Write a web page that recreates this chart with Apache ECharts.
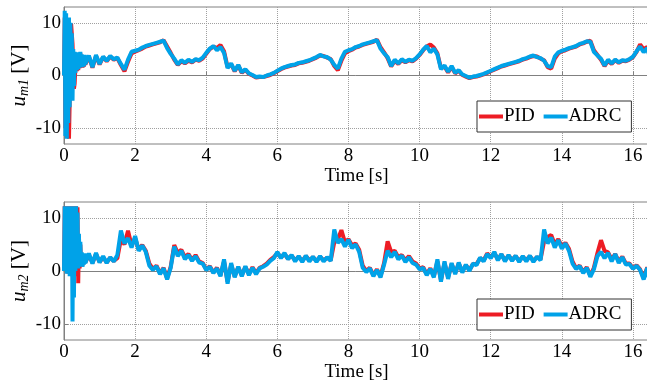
<!DOCTYPE html>
<html>
<head>
<meta charset="utf-8">
<script src="https://cdn.jsdelivr.net/npm/echarts@6/dist/echarts.min.js"></script>
<style>
  html, body { margin: 0; padding: 0; background: #fff; }
  #chart { width: 647px; height: 385px; }
</style>
</head>
<body>
<div id="chart"></div>
<script>
// 时间轴 (s)
var time = [0,0.02,0.04,0.06,0.08,0.1,0.12,0.14,0.16,0.18,
  0.2,0.22,0.24,0.26,0.28,0.3,0.32,0.34,0.36,0.38,
  0.4,0.42,0.44,0.46,0.48,0.5,0.52,0.54,0.56,0.58,0.6,
  0.7,0.8,0.9,
  1,1.1,1.2,1.3,1.4,1.5,1.6,1.7,1.8,1.9,
  2,2.1,2.2,2.3,2.4,2.5,2.6,2.7,2.8,2.9,
  3,3.1,3.2,3.3,3.4,3.5,3.6,3.7,3.8,3.9,
  4,4.1,4.2,4.3,4.4,4.5,4.6,4.7,4.8,4.9,
  5,5.1,5.2,5.3,5.4,5.5,5.6,5.7,5.8,5.9,
  6,6.1,6.2,6.3,6.4,6.5,6.6,6.7,6.8,6.9,
  7,7.1,7.2,7.3,7.4,7.5,7.6,7.7,7.8,7.9,
  8,8.1,8.2,8.3,8.4,8.5,8.6,8.7,8.8,8.9,
  9,9.1,9.2,9.3,9.4,9.5,9.6,9.7,9.8,9.9,
  10,10.1,10.2,10.3,10.4,10.5,10.6,10.7,10.8,10.9,
  11,11.1,11.2,11.3,11.4,11.5,11.6,11.7,11.8,11.9,
  12,12.1,12.2,12.3,12.4,12.5,12.6,12.7,12.8,12.9,
  13,13.1,13.2,13.3,13.4,13.5,13.6,13.7,13.8,13.9,
  14,14.1,14.2,14.3,14.4,14.5,14.6,14.7,14.8,14.9,
  15,15.1,15.2,15.3,15.4,15.5,15.6,15.7,15.8,15.9,
  16,16.1,16.2,16.3,16.4,16.45];

// u_m1 (上图)
var um1Pid = [0,11,-10,10.5,-11,9,-10,-12,-11.8,2,
  9.8,10,6,2,-2.5,-1.5,1.5,3.5,0.8,4,
  1,3.6,1.4,4.2,1.7,3.8,1.5,3.4,1.7,3.7,2.1,
  3.6,1.5,3.7,
  2.1,3.5,2.7,3.6,3.0,3.3,2.0,0.8,2.6,4.2,
  4.5,4.8,5.1,5.5,5.7,5.9,6.1,6.3,6.7,5.5,
  4.3,3.0,2.0,2.7,2.3,2.8,2.5,3.0,2.8,3.2,
  4.1,5.0,5.5,5.2,5.8,4.6,1.6,2.1,0.8,1.9,
  0.5,1.1,0.3,0.0,-0.4,-0.3,-0.3,-0.1,0.1,0.4,
  0.8,1.2,1.5,1.7,1.9,2.0,2.3,2.4,2.6,2.8,
  3.1,3.4,3.8,3.7,3.4,3.1,1.8,1.0,2.8,4.2,
  4.6,4.9,5.3,5.5,5.8,6.0,6.2,6.4,6.8,5.4,
  4.4,3.3,1.7,2.8,2.2,2.9,2.5,2.9,2.7,3.2,
  3.9,4.8,5.5,5.9,5.3,4.2,1.4,1.7,0.6,1.6,
  0.4,0.9,0.1,-0.2,-0.5,-0.3,-0.2,0.0,0.2,0.5,
  0.8,1.1,1.4,1.7,1.9,2.1,2.3,2.5,2.7,3.0,
  3.2,3.5,3.7,3.6,3.2,2.9,1.6,1.3,3.2,4.2,
  4.6,4.8,5.1,5.3,5.5,5.9,6.1,6.4,6.6,4.8,
  3.9,3.0,1.8,2.8,2.2,2.9,2.4,2.8,2.7,3.0,
  3.5,4.5,5.9,5.0,5.4,4.2];

var um1Adrc = [0,12.3,-11.5,11.8,-12,10.5,-9,11,-6,10,
  -3,8,-4.8,5,-2,4.5,0.5,4.2,1,4.4,
  1.2,3.8,1.5,4.5,1.8,4,1.6,3.6,1.8,3.9,2.2,
  3.8,1.6,3.9,
  2.2,3.6,2.8,3.7,3.1,3.4,2.2,1.1,3.0,4.5,
  4.7,4.9,5.3,5.6,5.8,6.0,6.2,6.4,6.6,5.2,
  4.1,3.2,2.1,2.9,2.4,3.0,2.6,3.1,2.9,3.4,
  4.3,5.1,5.6,4.8,5.4,4.3,1.4,2.3,0.9,2.0,
  0.6,1.2,0.4,0.1,-0.3,-0.2,-0.3,0.0,0.2,0.5,
  0.9,1.3,1.6,1.8,2.0,2.1,2.4,2.5,2.7,2.9,
  3.2,3.5,3.9,3.6,3.5,3.0,2.0,1.3,3.2,4.5,
  4.8,5.0,5.4,5.6,5.9,6.1,6.3,6.5,6.7,5.1,
  4.2,3.5,1.8,3.0,2.3,3.1,2.6,3.0,2.8,3.3,
  4.0,4.9,5.6,4.4,5.1,4.0,1.2,1.9,0.7,1.8,
  0.5,1.0,0.2,-0.1,-0.4,-0.2,-0.1,0.1,0.3,0.6,
  0.9,1.2,1.5,1.8,2.0,2.2,2.4,2.6,2.8,3.1,
  3.3,3.6,3.8,3.5,3.3,2.8,1.8,1.6,3.6,4.4,
  4.7,4.9,5.2,5.4,5.6,6.0,6.2,6.5,6.4,4.5,
  3.8,3.2,1.9,3.0,2.3,3.0,2.5,2.9,2.8,3.1,
  3.6,4.6,5.5,4.4,5.2,4.0];

// u_m2 (下图)
var um2Pid = [0,12.2,1,12.2,0,12.2,-0.5,12.2,0.5,12.2,
  0,12.2,-1,12.2,0,12.2,1,12.2,-1,12,
  -2.3,6,0.5,5,0.8,3.2,1,2.8,1.4,3,1.6,
  3.0,1.5,3.2,
  1.7,2.6,1.6,2.5,1.9,2.4,6.0,5.0,7.6,4.8,
  6.2,4.0,4.9,3.8,1.4,0.4,1.0,-0.4,0.6,-1.4,
  0.8,4.9,3.4,4.0,2.6,3.2,2.1,3.0,1.8,1.5,
  0.3,0.9,-0.3,0.6,-0.8,1.8,-2.0,1.2,-1.0,0.7,
  -0.8,0.8,-0.6,0.7,-0.4,0.6,0.9,1.4,2.1,2.6,
  3.4,2.6,3.2,2.3,2.9,2.0,2.7,1.9,2.8,2.0,
  2.6,1.9,2.7,2.0,2.5,2.0,5.4,6.0,7.7,5.4,
  6.0,4.8,5.2,4.0,1.0,0.0,0.6,-0.8,0.3,-1.0,
  1.5,5.6,3.6,3.8,2.6,3.0,2.0,2.8,1.8,1.4,
  0.5,0.7,-0.6,0.5,-1.0,1.8,-1.7,1.5,-1.2,1.3,
  -0.4,1.4,-0.1,1.1,0.2,1.3,1.3,2.4,2.0,3.3,
  2.6,3.4,2.2,3.1,2.0,2.9,2.1,2.8,1.9,2.7,
  2.0,2.8,1.9,2.6,2.2,5.6,6.4,6.8,5.0,6.0,
  4.6,5.3,4.2,1.8,0.5,1.0,-0.2,0.7,-0.9,0.6,
  3.4,5.8,3.8,3.5,2.2,3.2,1.8,2.7,1.4,1.4,
  0.5,1.1,0.3,-1.3,0.7,-1.2];

var um2Adrc = [0,12.2,0,12.2,-0.5,12.2,0.5,12.2,-1,12.2,
  1,12.2,-9.5,12.2,-5,12.2,0,12.2,1,11,
  0.5,7,0.8,5.5,1,3.5,0.8,3,1.2,3.3,1.5,
  3.3,1.4,3.4,
  1.6,2.8,1.5,2.6,1.8,3.0,7.6,5.2,6.2,4.4,
  6.6,3.8,4.8,3.6,1.0,0.2,0.9,-0.6,0.5,-1.6,
  0.6,4.6,2.8,3.8,2.2,3.0,1.9,2.8,1.6,1.4,
  0.2,0.8,-0.4,0.5,-1.0,2.2,-2.4,1.5,-1.2,0.8,
  -1.0,0.9,-0.8,0.6,-0.6,0.5,0.8,1.2,1.9,2.4,
  3.6,2.4,3.4,2.2,3.0,1.8,2.8,1.7,2.9,1.8,
  2.7,1.7,2.8,1.8,2.6,1.9,7.8,5.3,6.0,4.6,
  5.9,4.3,5.0,3.6,0.6,-0.2,0.5,-1.0,0.2,-1.2,
  1.2,3.8,2.6,3.6,2.2,2.9,1.7,2.6,1.5,1.2,
  0.3,0.6,-0.8,0.4,-1.2,2.2,-2.0,1.8,-1.5,1.5,
  -0.6,1.6,-0.3,1.2,0.0,1.4,1.1,2.5,1.8,3.2,
  2.4,3.6,2.0,3.2,1.8,3.0,1.9,2.9,1.7,2.8,
  1.8,2.9,1.7,2.7,2.0,7.8,5.2,6.3,4.4,5.8,
  4.2,5.2,3.8,1.4,0.4,0.9,-0.4,0.6,-1.1,0.3,
  2.8,3.6,2.4,3.4,1.8,3.2,1.5,2.6,1.2,1.3,
  0.4,1.0,0.2,-1.6,0.6,-1.4];

var xRange = [0, 16.45];       // 横轴范围
var yTicks = [-10, 0, 10];     // 纵轴刻度
var yRange = [-13, 13];

var myChart = echarts.init(document.getElementById("chart"));

var FONT = "Liberation Serif";
var RED = "#ed1c24";
var BLUE = "#00a2e8";

function pairs(vals) {
  return time.map(function (t, i) { return [t, vals[i]]; });
}

function xAxisOf(idx) {
  return {
    type: "value",
    gridIndex: idx,
    min: xRange[0],
    max: xRange[1],
    interval: 2,
    name: "Time [s]",
    nameLocation: "middle",
    nameGap: 21,
    nameTextStyle: { fontFamily: FONT, fontSize: 19, color: "#000" },
    axisLine: { show: true, lineStyle: { color: "#808080", width: 1 } },
    axisTick: { show: true, inside: true, length: 4, lineStyle: { color: "#808080" } },
    axisLabel: {
      fontFamily: FONT, fontSize: 19, color: "#000", margin: 3,
      showMaxLabel: false,
      formatter: function (v) { return v; }
    },
    splitLine: { show: true, lineStyle: { color: "#a0a0a0", type: "dotted", width: 1 } }
  };
}

function yAxisOf(idx, sub) {
  return {
    type: "value",
    gridIndex: idx,
    min: yRange[0],
    max: yRange[1],
    name: "{u|u}{s|" + sub + "}{v| [V]}",
    nameLocation: "middle",
    nameGap: 33,
    nameMoveOverlap: false,
    nameTextStyle: {
      rich: {
        u: { fontFamily: FONT, fontSize: 21, fontStyle: "italic", color: "#000", lineHeight: 24 },
        s: { fontFamily: FONT, fontSize: 14, fontStyle: "italic", color: "#000", padding: [10, 0, 0, 0], verticalAlign: "bottom" },
        v: { fontFamily: FONT, fontSize: 21, color: "#000", lineHeight: 24 }
      }
    },
    axisLine: { show: true, lineStyle: { color: "#808080", width: 1 } },
    axisTick: { show: true, inside: true, length: 4, customValues: yTicks, lineStyle: { color: "#808080" } },
    axisLabel: { fontFamily: FONT, fontSize: 19, color: "#000", margin: 3, customValues: yTicks },
    splitLine: { show: true, lineStyle: { color: "#a0a0a0", type: "dotted", width: 1 } }
  };
}

function lineSeries(name, vals, color, idx) {
  return {
    name: name,
    type: "line",
    xAxisIndex: idx,
    yAxisIndex: idx,
    data: pairs(vals),
    showSymbol: false,
    symbol: "none",
    lineStyle: { color: color, width: 4 },
    itemStyle: { color: color }
  };
}

function legendOf(top) {
  return {
    left: 477,
    top: top,
    orient: "horizontal",
    data: ["PID", "ADRC"],
    icon: "rect",
    itemWidth: 24,
    itemHeight: 4,
    itemGap: 9,
    padding: [6, 10, 6, 2],
    backgroundColor: "#fff",
    borderColor: "#333",
    borderWidth: 1,
    borderRadius: 0,
    selectedMode: false,
    textStyle: { fontFamily: FONT, fontSize: 19, color: "#000", padding: [0, 0, 0, -4] }
  };
}

var option = {
  animation: false,
  backgroundColor: "#fff",
  grid: [
    { left: 64, right: -2, top: 7, height: 137, outerBoundsMode: "none", containLabel: false,
      show: true, borderColor: "#808080", borderWidth: 1, backgroundColor: "transparent" },
    { left: 64, right: -2, top: 202, height: 138, outerBoundsMode: "none", containLabel: false,
      show: true, borderColor: "#808080", borderWidth: 1, backgroundColor: "transparent" }
  ],
  legend: [legendOf(101), legendOf(299)],
  xAxis: [xAxisOf(0), xAxisOf(1)],
  yAxis: [yAxisOf(0, "m1"), yAxisOf(1, "m2")],
  series: [
    lineSeries("PID", um1Pid, RED, 0),
    lineSeries("ADRC", um1Adrc, BLUE, 0),
    lineSeries("PID", um2Pid, RED, 1),
    lineSeries("ADRC", um2Adrc, BLUE, 1)
  ]
};

myChart.setOption(option);
</script>
</body>
</html>
